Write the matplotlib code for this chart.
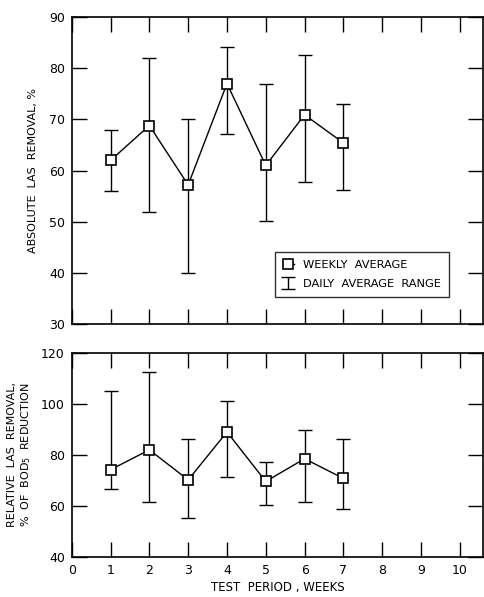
import matplotlib
matplotlib.use("Agg")
import matplotlib.pyplot as plt
import numpy as np

weeks = [1, 2, 3, 4, 5, 6, 7]
abs_avg = [62.0, 68.8, 57.2, 77.0, 61.0, 70.9, 65.4]
abs_low = [56.0, 52.0, 40.0, 67.2, 50.2, 57.8, 56.2]
abs_high = [68.0, 82.0, 70.0, 84.2, 77.0, 82.6, 73.0]

rel_avg = [74.2, 82.0, 70.2, 89.0, 69.6, 78.5, 70.8]
rel_low = [66.5, 61.5, 55.4, 71.4, 60.4, 61.6, 58.8]
rel_high = [105.2, 112.3, 86.2, 101.0, 77.2, 89.6, 86.3]

abs_yticks = [30, 40, 50, 60, 70, 80, 90]
rel_yticks = [40, 60, 80, 100, 120]
xticks = [0, 1, 2, 3, 4, 5, 6, 7, 8, 9, 10]

plt.rcParams['font.family'] = ['DejaVu Sans']

fig = plt.figure(figsize=(4.85, 5.97), dpi=100)
ax1 = fig.add_axes([0.148, 0.457, 0.848, 0.5145])
ax2 = fig.add_axes([0.148, 0.067, 0.848, 0.342])


def draw(ax, avg, low, high):
    avg = np.array(avg)
    yerr = [avg - np.array(low), np.array(high) - avg]
    eb = ax.errorbar(weeks, avg, yerr=yerr, fmt='none', ecolor='black',
                     elinewidth=1.0, capsize=5, capthick=1.0, zorder=2)
    ln, = ax.plot(weeks, avg, color='black', lw=1.0, marker='s', ms=6.5,
                  mfc='white', mec='black', mew=1.2, zorder=3)
    return ln, eb


for ax in (ax1, ax2):
    ax.set_xlim(0, 10.6)
    ax.set_xticks(xticks)
    ax.tick_params(axis='both', direction='in', length=11, width=1.0,
                   top=True, right=True, labelsize=9, pad=5)
    for s in ax.spines.values():
        s.set_linewidth(1.2)

ln, eb = draw(ax1, abs_avg, abs_low, abs_high)
ax1.set_ylim(30, 90)
ax1.set_yticks(abs_yticks)
ax1.tick_params(axis='x', labelbottom=False)
ax1.set_ylabel('ABSOLUTE  LAS  REMOVAL, %', fontsize=8, labelpad=8)
leg = ax1.legend([ln, eb], ['WEEKLY  AVERAGE', 'DAILY  AVERAGE  RANGE'],
                 loc='lower right', bbox_to_anchor=(0.93, 0.07), fontsize=8.2,
                 frameon=True, fancybox=False, edgecolor='black',
                 handlelength=0.9, handletextpad=0.8, borderpad=0.7,
                 labelspacing=0.8)
leg.get_frame().set_linewidth(1.0)

draw(ax2, rel_avg, rel_low, rel_high)
ax2.set_ylim(40, 120)
ax2.set_yticks(rel_yticks)
ax2.set_ylabel('RELATIVE  LAS  REMOVAL,\n%  OF  BOD$_5$  REDUCTION', fontsize=8, labelpad=6)
ax2.set_xlabel('TEST  PERIOD , WEEKS', fontsize=8.5, labelpad=3)

fig.savefig('out.png', dpi=100)
